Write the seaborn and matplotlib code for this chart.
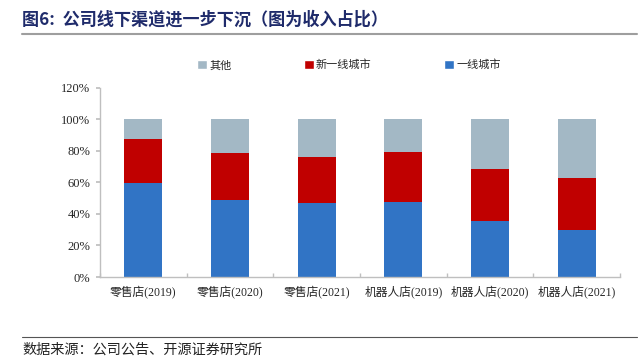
import matplotlib
matplotlib.use("Agg")
import matplotlib.pyplot as plt
import seaborn as sns
import pandas as pd
import numpy as np
from matplotlib.patches import Patch
from matplotlib.lines import Line2D

sns.set_theme(style="white")
plt.rcParams['font.family'] = ['Liberation Serif', 'Noto Sans CJK SC', 'DejaVu Sans']

categories = ["零售店(2019)", "零售店(2020)", "零售店(2021)", "机器人店(2019)", "机器人店(2020)", "机器人店(2021)"]
tier1 = [59.4, 48.8, 46.9, 47.3, 35.3, 29.8]
new_tier1 = [28.1, 29.6, 29.1, 32.1, 33.1, 33.1]
others = [12.5, 21.6, 24.0, 20.6, 31.6, 37.1]
yticks = [0, 20, 40, 60, 80, 100, 120]
ytick_labels = ["0%", "20%", "40%", "60%", "80%", "100%", "120%"]

c_blue = "#3174C5"
c_red = "#C00000"
c_gray = "#A3B8C5"

df = pd.DataFrame({"cat": categories, "t1": tier1, "n1": new_tier1, "ot": others})
df["top_red"] = df["t1"] + df["n1"]
df["top_all"] = df["top_red"] + df["ot"]

fig = plt.figure(figsize=(6.4, 3.62), dpi=100)
ax = fig.add_axes([100/640, 1-277/362, 520/640, (277-87.7)/362])

for col, c in [("top_all", c_gray), ("top_red", c_red), ("t1", c_blue)]:
    sns.barplot(data=df, x="cat", y=col, color=c, width=0.44, ax=ax, saturation=1,
                edgecolor=c, linewidth=0)

ax.set_xlim(-0.5, 5.5)
ax.set_ylim(0, 120)
ax.set_yticks(yticks)
ax.set_yticklabels(ytick_labels, fontsize=9, family=['Liberation Serif'])
ax.set_xticks(range(len(categories)))
ax.set_xticklabels(categories, fontsize=8.5, family=['Liberation Serif', 'Noto Sans CJK SC'])
ax.tick_params(axis='x', which='major', length=0, pad=6)
ax.tick_params(axis='y', length=3, color="#BFBFBF", direction='out', left=True, pad=4)
ax.set_xlabel("")
ax.set_ylabel("")
for s in ["top", "right"]:
    ax.spines[s].set_visible(False)
for s in ["left", "bottom"]:
    ax.spines[s].set_color("#BFBFBF")
    ax.spines[s].set_linewidth(1.0)
ax.set_xticks(np.arange(-0.5, 6.0, 1.0), minor=True)
ax.tick_params(axis='x', which='minor', length=3, width=1, color="#BFBFBF", bottom=True, direction='in')

handles = [Patch(facecolor=c_gray, label="其他"),
           Patch(facecolor=c_red, label="新一线城市"),
           Patch(facecolor=c_blue, label="一线城市")]
fig.legend(handles=handles, loc="center", bbox_to_anchor=(0.545, 1-65/362), ncol=3,
           frameon=False, prop={'family': ['Noto Sans CJK SC'], 'size': 8},
           handlelength=0.9, handleheight=0.9, handletextpad=0.2, columnspacing=6.5)

fig.text(22/640, 1-20/362, "图6:  公司线下渠道进一步下沉（图为收入占比）", fontsize=12.3, fontweight='bold',
         color="#1F2B6B", family=['Noto Sans CJK SC'], va='center', ha='left')
fig.add_artist(Line2D([22/640, 637/640], [1-34/362, 1-34/362], color="#9E9E9E", lw=1.5))
fig.add_artist(Line2D([22/640, 637/640], [1-337/362, 1-337/362], color="#555555", lw=0.8))
fig.text(22/640, 1-350/362, "数据来源：公司公告、开源证券研究所", fontsize=10.2,
         color="#222222", family=['Noto Sans CJK SC'], va='center', ha='left')

fig.savefig("out.png", dpi=100)
